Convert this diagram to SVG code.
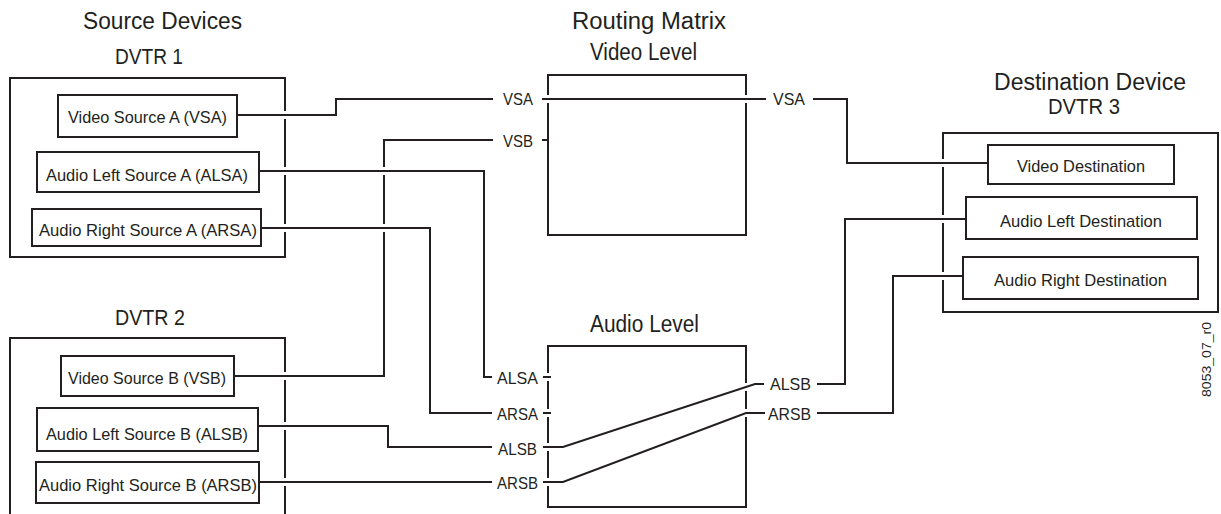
<svg xmlns="http://www.w3.org/2000/svg" width="1221" height="514" viewBox="0 0 1221 514">
<style>
text{font-family:"Liberation Sans",Arial,sans-serif;fill:#231f20}
.t{font-size:23px}
.d{font-size:22px}
.b{font-size:17px}
.p{font-size:16.5px}
.r{font-size:13px}
.box{fill:none;stroke:#231f20;stroke-width:2}
.ln{fill:none;stroke:#231f20;stroke-width:2}
.gap{fill:none;stroke:#ffffff;stroke-width:8}
</style>
<rect width="1221" height="514" fill="#ffffff"/>

<g id="source-devices">
<text class="t" x="83" y="29" textLength="159" lengthAdjust="spacingAndGlyphs">Source Devices</text>
</g>

<g id="dvtr1">
<text class="d" x="115" y="64" textLength="68" lengthAdjust="spacingAndGlyphs">DVTR 1</text>
<rect class="box" x="10" y="78" width="275" height="179"/>
</g>
<g id="vsa-src">
<rect class="box" x="58" y="95" width="179" height="42"/>
<text class="b" x="68" y="123" textLength="159" lengthAdjust="spacingAndGlyphs">Video Source A (VSA)</text>
</g>
<g id="alsa-src">
<rect class="box" x="37" y="152" width="222" height="40"/>
<text class="b" x="46" y="181" textLength="202" lengthAdjust="spacingAndGlyphs">Audio Left Source A (ALSA)</text>
</g>
<g id="arsa-src">
<rect class="box" x="32" y="209" width="229" height="37"/>
<text class="b" x="39" y="236" textLength="218" lengthAdjust="spacingAndGlyphs">Audio Right Source A (ARSA)</text>
</g>

<g id="dvtr2">
<text class="d" x="115" y="325" textLength="70" lengthAdjust="spacingAndGlyphs">DVTR 2</text>
<path class="box" d="M10,520 V338 H285 V520"/>
</g>
<g id="vsb-src">
<rect class="box" x="61" y="356" width="173" height="40"/>
<text class="b" x="68" y="384" textLength="158" lengthAdjust="spacingAndGlyphs">Video Source B (VSB)</text>
</g>
<g id="alsb-src">
<rect class="box" x="37" y="408" width="221" height="43"/>
<text class="b" x="46" y="440" textLength="202" lengthAdjust="spacingAndGlyphs">Audio Left Source B (ALSB)</text>
</g>
<g id="arsb-src">
<rect class="box" x="36" y="462" width="223" height="41"/>
<text class="b" x="39" y="491" textLength="218" lengthAdjust="spacingAndGlyphs">Audio Right Source B (ARSB)</text>
</g>

<g id="video-level">
<text class="t" x="572" y="29" textLength="154" lengthAdjust="spacingAndGlyphs">Routing Matrix</text>
<text class="t" x="590" y="60" textLength="107" lengthAdjust="spacingAndGlyphs">Video Level</text>
<rect class="box" x="548" y="75" width="198" height="160"/>
</g>

<g id="audio-level">
<text class="t" x="590" y="332" textLength="109" lengthAdjust="spacingAndGlyphs">Audio Level</text>
<rect class="box" x="548" y="346" width="198" height="161"/>
</g>

<g id="dvtr3">
<text class="t" x="994" y="90" textLength="192" lengthAdjust="spacingAndGlyphs">Destination Device</text>
<text class="d" x="1048" y="114" textLength="72" lengthAdjust="spacingAndGlyphs">DVTR 3</text>
<rect class="box" x="943" y="133" width="275" height="179"/>
</g>
<g id="video-dest">
<rect class="box" x="988" y="145" width="186" height="39"/>
<text class="b" x="1017" y="172" textLength="128" lengthAdjust="spacingAndGlyphs">Video Destination</text>
</g>
<g id="audio-left-dest">
<rect class="box" x="966" y="197" width="231" height="42"/>
<text class="b" x="1000" y="227" textLength="162" lengthAdjust="spacingAndGlyphs">Audio Left Destination</text>
</g>
<g id="audio-right-dest">
<rect class="box" x="963" y="257" width="235" height="42"/>
<text class="b" x="994" y="286" textLength="173" lengthAdjust="spacingAndGlyphs">Audio Right Destination</text>
</g>

<g id="port-labels">
<text class="p" x="503" y="105" textLength="30" lengthAdjust="spacingAndGlyphs">VSA</text>
<text class="p" x="503" y="147" textLength="30" lengthAdjust="spacingAndGlyphs">VSB</text>
<text class="p" x="497" y="384" textLength="41" lengthAdjust="spacingAndGlyphs">ALSA</text>
<text class="p" x="497" y="420" textLength="41" lengthAdjust="spacingAndGlyphs">ARSA</text>
<text class="p" x="498" y="455" textLength="39" lengthAdjust="spacingAndGlyphs">ALSB</text>
<text class="p" x="497" y="489" textLength="41" lengthAdjust="spacingAndGlyphs">ARSB</text>
<text class="p" x="773" y="105" textLength="32" lengthAdjust="spacingAndGlyphs">VSA</text>
<text class="p" x="770" y="390" textLength="41" lengthAdjust="spacingAndGlyphs">ALSB</text>
<text class="p" x="768" y="420" textLength="43" lengthAdjust="spacingAndGlyphs">ARSB</text>
</g>

<g id="connectors">
<g id="edge-gaps">
<path class="gap" d="M281,115 H289 M281,171 H289 M281,228 H289 M281,376 H289 M281,426 H289 M281,482 H289 M544,99 H552 M742,99 H750 M544,377 H552 M544,413 H552 M544,447 H552 M544,482 H552 M742,387 H750 M742,413 H750 M939,163 H947 M939,219 H947 M939,276 H947"/>
</g>
<path id="c-vsb" class="ln" d="M234,376 H384 V140 H493 M542,140 H549"/>
<path class="gap" d="M380,171 H388 M380,228 H388"/>
<path id="c-vsa" class="ln" d="M237,115 H336 V99 H493 M542,99 H766 M813,99 H847 V163 H988"/>
<path id="c-alsa" class="ln" d="M259,171 H484 V377 H492 M543,377 H551"/>
<path id="c-arsa" class="ln" d="M261,228 H430 V413 H492 M543,413 H551"/>
<path id="c-alsb" class="ln" d="M258,426 H388 V447 H492 M543,447 H563 L755,384 H764 M817,384 H845 V219 H966"/>
<path id="c-arsb" class="ln" d="M259,482 H492 M543,482 H563 L746,413 H765 M817,413 H893 V276 H963"/>
</g>

<g id="figure-id">
<text class="r" transform="translate(1211,397) rotate(-90)" textLength="75" lengthAdjust="spacingAndGlyphs">8053_07_r0</text>
</g>
</svg>
